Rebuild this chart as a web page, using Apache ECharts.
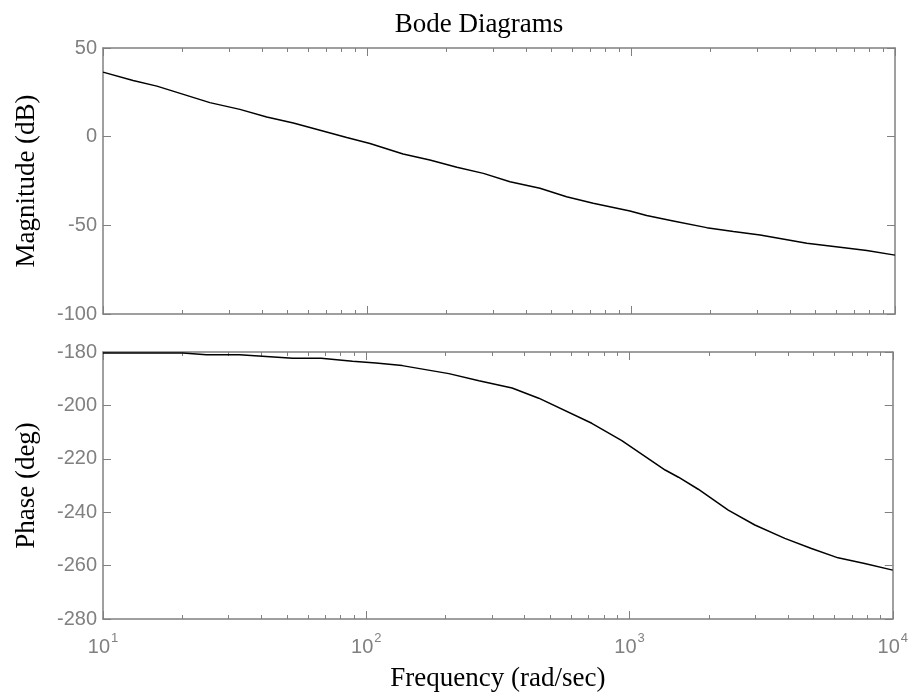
<!DOCTYPE html>
<html>
<head>
<meta charset="utf-8">
<script src="https://cdn.jsdelivr.net/npm/echarts@6/dist/echarts.min.js"></script>
<style>
  html, body { margin: 0; padding: 0; background: #fff; }
  #chart { width: 911px; height: 697px; }
</style>
</head>
<body>
<div id="chart"></div>
<script>
// frequency (rad/sec) and magnitude (dB)
var freqMag = [10, 13, 16, 25.4, 33, 41.7, 52.6, 66.4, 83.8, 102.6, 137, 173, 219, 276, 348, 452, 570, 719, 991, 1146, 1445, 1935, 2443, 3084, 4635, 6196, 7820, 10000];
var magDb   = [36.4, 31.7, 28.5, 19.2, 15.4, 11.1, 7.7, 3.6, -0.5, -3.9, -9.8, -13.2, -17.3, -20.7, -25.4, -29.1, -33.9, -37.6, -41.9, -44.5, -47.5, -51.3, -53.5, -55.4, -60.1, -62.3, -64.2, -66.8];

// frequency (rad/sec) and phase (deg)
var freqPh  = [10, 20.1, 24.7, 33, 52.6, 67.4, 88.7, 108.9, 137, 206, 268, 358, 452, 719, 935, 1366, 1535, 1824, 2372, 2993, 3890, 4910, 6196, 7820, 10000];
var phaseDeg = [-180.4, -180.4, -181.0, -181.0, -182.3, -182.3, -183.5, -184.1, -185.1, -188.1, -190.8, -193.5, -197.3, -206.7, -213.2, -224.2, -226.9, -231.4, -239.2, -244.8, -249.8, -253.6, -257.1, -259.2, -261.7];

// axis ticks
var decadeTicks = [10, 100, 1000, 10000];
var minorTicks = [20, 30, 40, 50, 60, 70, 80, 90, 200, 300, 400, 500, 600, 700, 800, 900, 2000, 3000, 4000, 5000, 6000, 7000, 8000, 9000];

var GREY = '#808080';
var SANS = 'Liberation Sans, Arial, sans-serif';
var SERIF = 'Liberation Serif, Times New Roman, serif';
var NAME_SIZE = 27;

function pairs(xs, ys){
  var out = [];
  for (var i = 0; i < xs.length; i++) out.push([xs[i], ys[i]]);
  return out;
}

// one log x axis (major or minor ticks, bottom or top)
function xAx(grid, pos, minor, withLabels, name){
  var ax = {
    type: 'log', logBase: 10, gridIndex: grid, position: pos,
    min: 10, max: 10000,
    axisLine: { show: !minor, onZero: false, lineStyle: { color: GREY, width: 1.5 } },
    axisTick: { show: true, inside: true, length: minor ? 4 : 8,
                customValues: minor ? minorTicks : decadeTicks,
                lineStyle: { color: GREY, width: 1 } },
    splitLine: { show: false },
    axisLabel: { show: false }
  };
  if (withLabels) {
    ax.axisLabel = {
      show: true, margin: 10, customValues: decadeTicks,
      formatter: function(v){
        var e = Math.round(Math.log(v) / Math.LN10);
        return '{b|10}{s|' + e + '}';
      },
      rich: {
        b: { fontFamily: SANS, fontSize: 20, color: GREY, padding: [8, 0, 0, 0] },
        s: { fontFamily: SANS, fontSize: 13, color: GREY, padding: [0, 0, 10, 1] }
      }
    };
  }
  if (name) {
    ax.name = name;
    ax.nameLocation = 'middle';
    ax.nameGap = 46;
    ax.nameTextStyle = { fontFamily: SERIF, fontSize: NAME_SIZE, color: '#000' };
  }
  return ax;
}

function yAx(grid, pos, min, max, step, withLabels, name){
  var ax = {
    type: 'value', gridIndex: grid, position: pos,
    min: min, max: max, interval: step,
    axisLine: { show: true, onZero: false, lineStyle: { color: GREY, width: 1.5 } },
    axisTick: { show: true, inside: true, length: 8, lineStyle: { color: GREY, width: 1 } },
    splitLine: { show: false },
    axisLabel: { show: withLabels, margin: 6, fontFamily: SANS, fontSize: 20, color: GREY }
  };
  if (name) {
    ax.name = name;
    ax.nameLocation = 'middle';
    ax.nameRotate = 90;
    ax.nameGap = 63;
    ax.nameTextStyle = { fontFamily: SERIF, fontSize: NAME_SIZE, color: '#000' };
  }
  return ax;
}

var chart = echarts.init(document.getElementById('chart'), null, { renderer: 'canvas' });

chart.setOption({
  animation: false,
  backgroundColor: '#fff',
  title: {
    text: 'Bode Diagrams', left: 474, top: 6, textAlign: 'center',
    textStyle: { fontFamily: SERIF, fontSize: NAME_SIZE, fontWeight: 'normal', color: '#000' }
  },
  grid: [
    { left: 103, right: 16, top: 48, height: 266 },
    { left: 103, right: 16, top: 352, height: 267 }
  ],
  xAxis: [
    xAx(0, 'bottom', false, false),
    xAx(0, 'bottom', true, false),
    xAx(0, 'top', false, false),
    xAx(0, 'top', true, false),
    xAx(1, 'bottom', false, true, 'Frequency (rad/sec)'),
    xAx(1, 'bottom', true, false),
    xAx(1, 'top', false, false),
    xAx(1, 'top', true, false)
  ],
  yAxis: [
    yAx(0, 'left', -100, 50, 50, true, 'Magnitude (dB)'),
    yAx(0, 'right', -100, 50, 50, false),
    yAx(1, 'left', -280, -180, 20, true, 'Phase (deg)'),
    yAx(1, 'right', -280, -180, 20, false)
  ],
  series: [
    {
      type: 'line', xAxisIndex: 0, yAxisIndex: 0,
      data: pairs(freqMag, magDb), showSymbol: false,
      lineStyle: { color: '#000', width: 1.5 }
    },
    {
      type: 'line', xAxisIndex: 4, yAxisIndex: 2,
      data: pairs(freqPh, phaseDeg), showSymbol: false,
      lineStyle: { color: '#000', width: 1.5 }
    }
  ]
});
</script>
</body>
</html>
